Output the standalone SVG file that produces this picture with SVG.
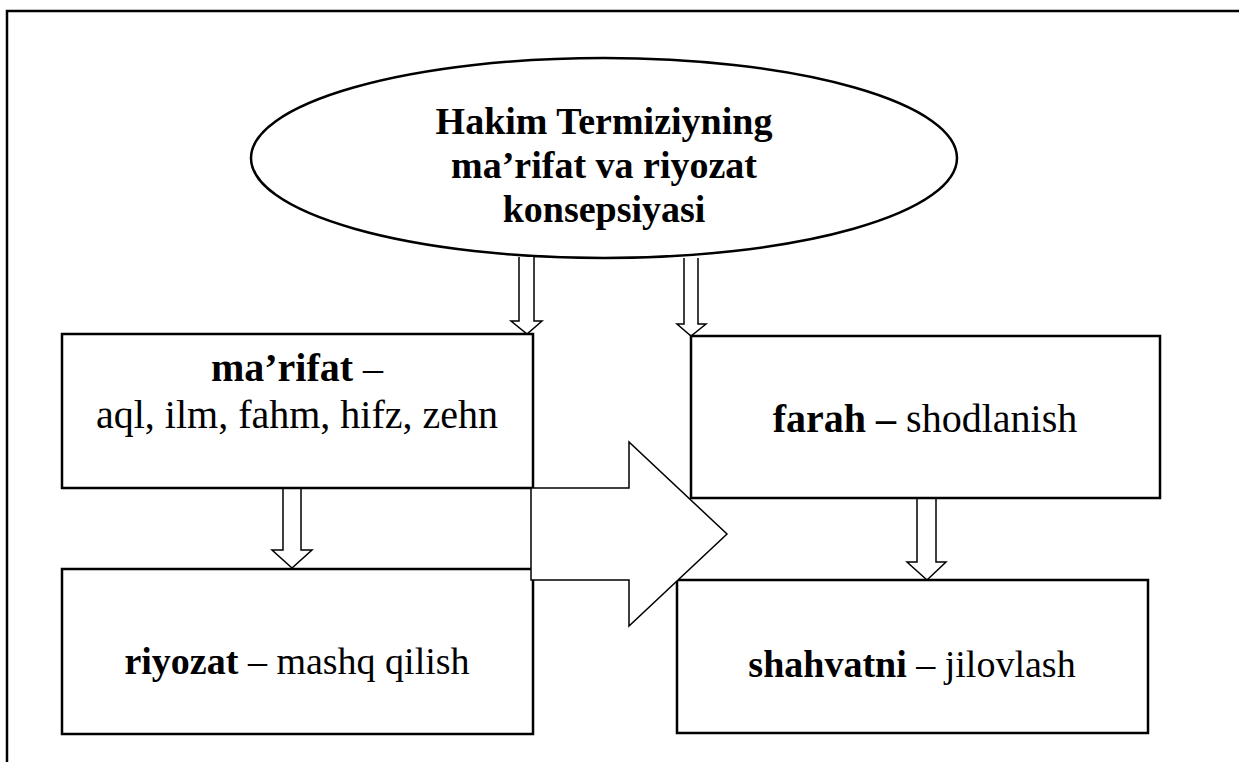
<svg xmlns="http://www.w3.org/2000/svg" width="1239" height="762" viewBox="0 0 1239 762">
<style>
.box{fill:#fff;stroke:#000;stroke-width:2.5}
.arr{fill:#fff;stroke:#000;stroke-width:1.5;stroke-linejoin:miter}
.t{font-family:"Liberation Serif","Times New Roman",serif;font-size:40px;fill:#000;text-anchor:middle}
.h{font-size:38px}
.s{font-size:38px}
.b{font-weight:bold}
</style>
<rect width="1239" height="762" fill="#fff"/>
<path d="M7,762 V11 H1239" fill="none" stroke="#000" stroke-width="2.5"/>
<g id="title">
<ellipse cx="604" cy="158" rx="353" ry="100" fill="#fff" stroke="#000" stroke-width="2.5"/>
<text class="t h b" x="604" y="134">Hakim Termiziyning</text>
<text class="t h b" x="604" y="178">ma’rifat va riyozat</text>
<text class="t h b" x="604" y="222">konsepsiyasi</text>
</g>
<g id="connectors">
<path class="arr" d="M519,257 V321 H511 L527,334 L542,321 H534 V257"/>
<path class="arr" d="M684,258 V324 H677 L691,336 L706,324 H698 V258"/>
<path class="arr" d="M283,488 V550 H272 L292,568 L312,550 H301 V488 Z"/>
<path class="arr" d="M917,498 V562 H907 L927,580 L946,562 H936 V498 Z"/>
</g>
<g id="marifat">
<rect class="box" x="62" y="334" width="471" height="154"/>
<text class="t" x="297" y="381"><tspan class="b">ma’rifat</tspan> –</text>
<text class="t" x="297" y="428">aql, ilm, fahm, hifz, zehn</text>
</g>
<g id="riyozat">
<rect class="box" x="62" y="569" width="471" height="165"/>
<text class="t s" x="297" y="674"><tspan class="b">riyozat</tspan> – mashq qilish</text>
</g>
<g id="farah">
<rect class="box" x="691" y="336" width="469" height="162"/>
<text class="t" x="925" y="432"><tspan class="b">farah –</tspan> shodlanish</text>
</g>
<g id="shahvatni">
<rect class="box" x="677" y="580" width="471" height="153"/>
<text class="t s" x="912" y="677"><tspan class="b">shahvatni</tspan> – jilovlash</text>
</g>
<g id="bigarrow">
<path class="arr" d="M531,488 H629 V442 L727,534 L629,626 V580 H531 Z"/>
</g>
</svg>
